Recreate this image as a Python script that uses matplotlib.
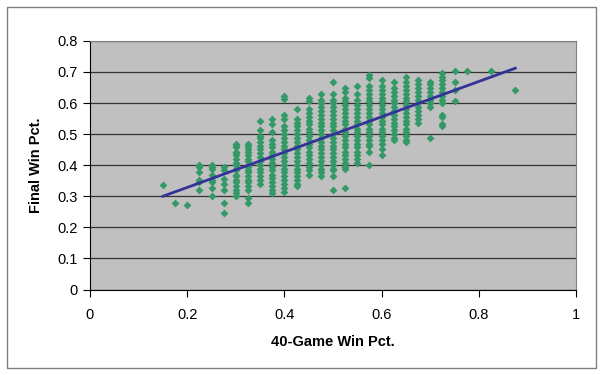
import numpy as np
import matplotlib
matplotlib.use('Agg')
import matplotlib.pyplot as plt
from matplotlib.patches import Rectangle

plt.rcParams['font.family'] = ['Liberation Sans', 'DejaVu Sans']

# 40-game win pct (k/40) and the final win pcts seen in each column
col_x = [0.15, 0.175, 0.2, 0.225, 0.25, 0.275, 0.3, 0.325, 0.35, 0.375, 0.4,
         0.425, 0.45, 0.475, 0.5, 0.525, 0.55, 0.575, 0.6, 0.625, 0.65,
         0.675, 0.7, 0.725, 0.75, 0.775, 0.825, 0.875]
col_y = [
    [0.336],
    [0.279],
    [0.272],
    [0.401, 0.395, 0.377, 0.352, 0.346, 0.321],
    [0.401, 0.395, 0.389, 0.370, 0.352, 0.346, 0.327, 0.302],
    [0.395, 0.383, 0.355, 0.340, 0.321, 0.278, 0.247],
    [0.469, 0.463, 0.457, 0.444, 0.438, 0.432, 0.420, 0.407, 0.401, 0.389,
     0.383, 0.370, 0.364, 0.352, 0.346, 0.333, 0.321, 0.309, 0.302],
    [0.469, 0.463, 0.451, 0.444, 0.432, 0.420, 0.414, 0.401, 0.395, 0.383,
     0.377, 0.364, 0.352, 0.346, 0.333, 0.321, 0.296, 0.278],
    [0.543, 0.512, 0.494, 0.488, 0.475, 0.463, 0.451, 0.438, 0.426, 0.414,
     0.401, 0.389, 0.377, 0.364, 0.352, 0.340],
    [0.549, 0.531, 0.506, 0.481, 0.469, 0.457, 0.444, 0.432, 0.420, 0.407,
     0.395, 0.383, 0.370, 0.358, 0.346, 0.333, 0.321, 0.309],
    [0.623, 0.614, 0.562, 0.549, 0.525, 0.512, 0.500, 0.488, 0.475, 0.463,
     0.451, 0.438, 0.426, 0.414, 0.401, 0.389, 0.377, 0.364, 0.352, 0.340,
     0.327, 0.315],
    [0.580, 0.549, 0.537, 0.525, 0.512, 0.500, 0.488, 0.475, 0.463, 0.451,
     0.438, 0.426, 0.414, 0.401, 0.389, 0.377, 0.364, 0.352, 0.340, 0.333],
    [0.617, 0.605, 0.580, 0.568, 0.556, 0.543, 0.531, 0.518, 0.506, 0.494,
     0.481, 0.469, 0.457, 0.444, 0.432, 0.420, 0.407, 0.395, 0.383, 0.370],
    [0.630, 0.611, 0.599, 0.586, 0.574, 0.562, 0.549, 0.537, 0.525, 0.512,
     0.500, 0.488, 0.475, 0.463, 0.451, 0.438, 0.426, 0.414, 0.401, 0.389,
     0.377, 0.364],
    [0.667, 0.630, 0.611, 0.599, 0.586, 0.574, 0.562, 0.549, 0.537, 0.525,
     0.512, 0.500, 0.488, 0.475, 0.463, 0.451, 0.438, 0.426, 0.414, 0.401,
     0.389, 0.383, 0.364, 0.321],
    [0.648, 0.636, 0.617, 0.605, 0.593, 0.580, 0.568, 0.556, 0.543, 0.531,
     0.518, 0.506, 0.494, 0.481, 0.469, 0.457, 0.444, 0.432, 0.420, 0.407,
     0.395, 0.389, 0.327],
    [0.654, 0.630, 0.611, 0.593, 0.580, 0.568, 0.556, 0.543, 0.531, 0.518,
     0.506, 0.494, 0.481, 0.469, 0.457, 0.444, 0.432, 0.420, 0.407],
    [0.691, 0.679, 0.654, 0.642, 0.630, 0.617, 0.605, 0.593, 0.580, 0.568,
     0.556, 0.543, 0.531, 0.518, 0.506, 0.494, 0.481, 0.469, 0.463, 0.444,
     0.401],
    [0.673, 0.654, 0.642, 0.630, 0.617, 0.605, 0.593, 0.580, 0.568, 0.556,
     0.543, 0.531, 0.518, 0.506, 0.494, 0.481, 0.469, 0.451, 0.432],
    [0.667, 0.648, 0.636, 0.623, 0.611, 0.599, 0.586, 0.574, 0.562, 0.549,
     0.537, 0.525, 0.512, 0.500, 0.488, 0.481],
    [0.685, 0.667, 0.654, 0.642, 0.630, 0.617, 0.605, 0.593, 0.580, 0.568,
     0.556, 0.543, 0.531, 0.518, 0.506, 0.494, 0.481, 0.475],
    [0.673, 0.660, 0.648, 0.636, 0.623, 0.611, 0.599, 0.586, 0.574, 0.562,
     0.549, 0.537],
    [0.667, 0.660, 0.648, 0.636, 0.623, 0.611, 0.599, 0.586, 0.488],
    [0.698, 0.685, 0.673, 0.660, 0.648, 0.636, 0.623, 0.611, 0.599, 0.562,
     0.556, 0.531, 0.525],
    [0.704, 0.667, 0.642, 0.605],
    [0.704],
    [0.704],
    [0.642],
]

# linear trendline end points
trend_x = [0.15, 0.875]
trend_y = [0.300, 0.712]

xticks = [0, 0.2, 0.4, 0.6, 0.8, 1]
yticks = [0, 0.1, 0.2, 0.3, 0.4, 0.5, 0.6, 0.7, 0.8]

pts_x = []
pts_y = []
for x, ys in zip(col_x, col_y):
    pts_x += [x] * len(ys)
    pts_y += ys

fig = plt.figure(figsize=(6, 3.75), dpi=100)
fig.patches.append(Rectangle((7 / 600, 1 - 368 / 375), 589 / 600, 361 / 375,
                             transform=fig.transFigure, fill=False,
                             edgecolor='#808080', linewidth=1))

ax = fig.add_axes([0.15, 0.228, 0.81, 0.663])
ax.set_facecolor('#C0C0C0')
ax.set_xlim(0, 1)
ax.set_ylim(0, 0.8)
ax.set_xticks(xticks)
ax.set_yticks(yticks)
ax.set_xticklabels(['0', '0.2', '0.4', '0.6', '0.8', '1'])
ax.set_yticklabels(['0', '0.1', '0.2', '0.3', '0.4', '0.5', '0.6', '0.7', '0.8'])
ax.grid(axis='y', color='#333333', linewidth=0.9)
ax.set_axisbelow(True)

ax.scatter(pts_x, pts_y, marker='D', s=16, color='#339966',
           linewidths=0, zorder=3)
ax.plot(trend_x, trend_y, color='#333399', linewidth=2, zorder=4)

for side in ['top', 'right']:
    ax.spines[side].set_color('#808080')
for side in ['left', 'bottom']:
    ax.spines[side].set_color('#000000')
ax.tick_params(axis='both', direction='out', length=5, width=0.8,
               labelsize=10.5, colors='black')
ax.tick_params(axis='x', pad=8)
ax.tick_params(axis='y', pad=4)

ax.set_xlabel('40-Game Win Pct.', fontsize=10.5, fontweight='bold', labelpad=10)
ax.set_ylabel('Final Win Pct.', fontsize=10.5, fontweight='bold', labelpad=10)

fig.savefig('out.png', dpi=100)
